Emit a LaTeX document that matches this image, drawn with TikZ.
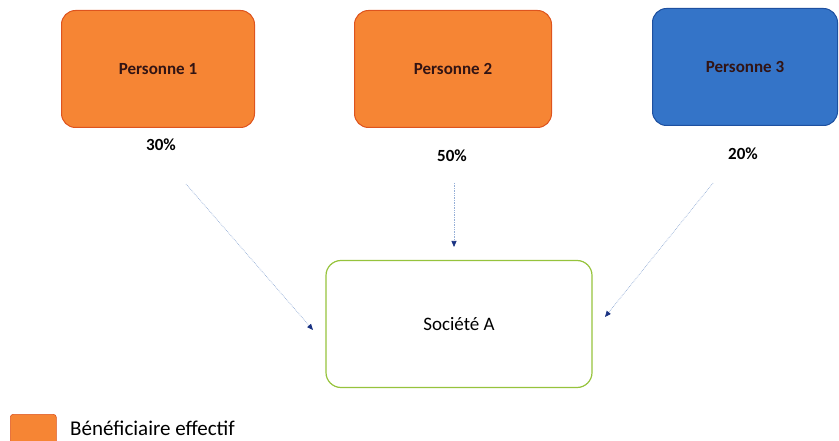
\documentclass[tikz,border=0pt]{standalone}
\usepackage{fontspec}
\setmainfont{Carlito}
\usetikzlibrary{arrows.meta}
\definecolor{orfill}{RGB}{246,133,52}
\definecolor{ordraw}{RGB}{222,84,30}
\definecolor{blfill}{RGB}{52,116,200}
\definecolor{bldraw}{RGB}{30,80,160}
\definecolor{grdraw}{RGB}{150,195,60}
\definecolor{lnblue}{RGB}{150,175,215}
\definecolor{tipblue}{RGB}{25,50,130}
\definecolor{labtxt}{RGB}{50,20,20}
\tikzset{
  person/.style={rounded corners=14pt, line width=1pt, minimum width=#1, minimum height=117pt, text=labtxt, font=\bfseries\fontsize{17}{20}\selectfont},
  orbox/.style={fill=orfill, draw=ordraw},
  blbox/.style={fill=blfill, draw=bldraw},
  pct/.style={font=\bfseries\fontsize{17}{20}\selectfont},
  link/.style={draw=lnblue, densely dotted, line width=0.7pt, -{Triangle[length=6pt,width=5pt,color=tipblue]}},
}
\begin{document}
\begin{tikzpicture}[x=1pt,y=-1pt]
\useasboundingbox (0,0) rectangle (839,441);
% shareholders
\node[person=193pt, orbox] (p1) at (158,69) {Personne 1};
\node[person=197pt, orbox] (p2) at (453,69) {Personne 2};
\node[person=185pt, blbox] (p3) at (745,67) {Personne 3};
% ownership shares
\node[pct] (s1) at (161,145) {30\%};
\node[pct] (s2) at (452,156) {50\%};
\node[pct] (s3) at (743,154) {20\%};
% company
\node[draw=grdraw, line width=1.2pt, rounded corners=15pt, minimum width=266pt, minimum height=127pt, font=\fontsize{19}{22}\selectfont] (soc) at (459,324) {Société A};
% arrow end points
\coordinate (a1) at (186,184);
\coordinate (a2) at (454,183);
\coordinate (a3) at (713,183);
\coordinate (b1) at (313,330);
\coordinate (b2) at (454,247);
\coordinate (b3) at (605,317);
\draw[link] (a1) -- (b1);
\draw[link] (a2) -- (b2);
\draw[link] (a3) -- (b3);
% legend
\node[fill=orfill, draw=ordraw, line width=0.6pt, rounded corners=3pt, minimum width=46pt, minimum height=30pt, anchor=north west] (leg) at (10,414) {};
\node[anchor=west, inner sep=1pt, font=\fontsize{21}{24}\selectfont] (legtxt) at (69,428) {Bénéficiaire effectif};
\end{tikzpicture}
\end{document}
